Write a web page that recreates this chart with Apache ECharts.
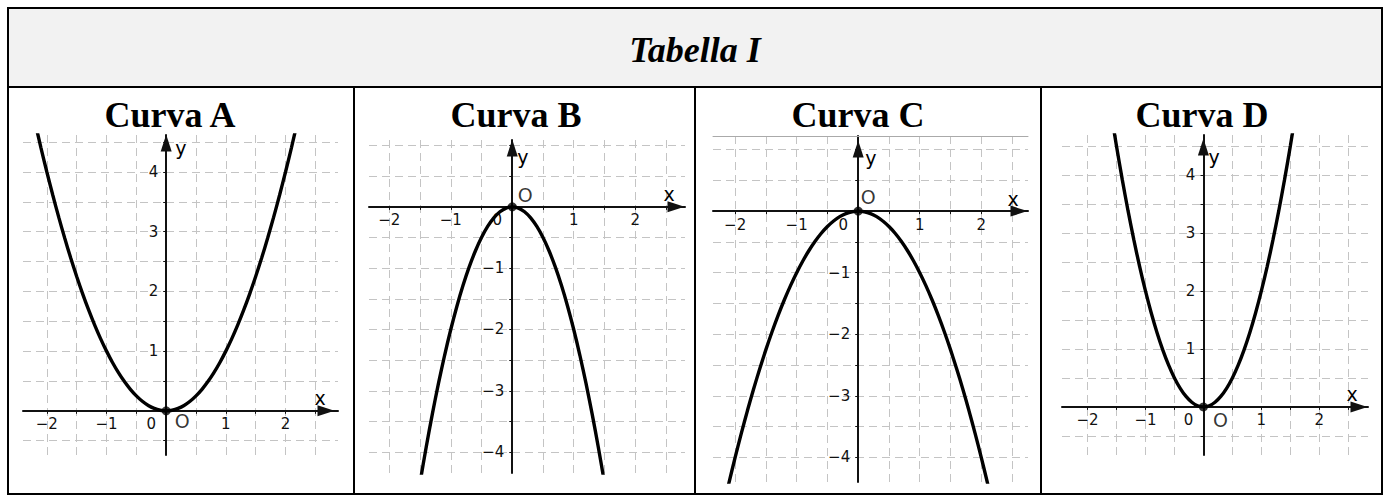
<!DOCTYPE html>
<html>
<head>
<meta charset="utf-8">
<title>Tabella I</title>
<script src="https://cdn.jsdelivr.net/npm/echarts@6/dist/echarts.min.js"></script>
<style>
  html, body { margin: 0; padding: 0; background: #fff; }
  #main { width: 1389px; height: 496px; }
</style>
</head>
<body>
<div id="main"></div>
<script>
// texts
const tableTitle = 'Tabella I';
const curveNames = ['Curva A', 'Curva B', 'Curva C', 'Curva D'];

// tick labels and grid steps (every half unit)
const xLabels = [-2, -1, 0, 1, 2];
const yLabelsUp = [1, 2, 3, 4];
const yLabelsDown = [-1, -2, -3, -4];
const gridX = [-2.5, -2, -1.5, -1, -0.5, 0, 0.5, 1, 1.5, 2, 2.5];
const gridYUp = [-0.5, 0, 0.5, 1, 1.5, 2, 2.5, 3, 3.5, 4, 4.5];
const gridYDown = [-4, -3.5, -3, -2.5, -2, -1.5, -1, -0.5, 0, 0.5, 1];

// points
const xsWide = [-2.2, -2.1, -2, -1.9, -1.8, -1.7, -1.6, -1.5, -1.4, -1.3, -1.2, -1.1, -1, -0.9, -0.8, -0.7, -0.6, -0.5, -0.4, -0.3, -0.2, -0.1,
  0, 0.1, 0.2, 0.3, 0.4, 0.5, 0.6, 0.7, 0.8, 0.9, 1, 1.1, 1.2, 1.3, 1.4, 1.5, 1.6, 1.7, 1.8, 1.9, 2, 2.1, 2.2];
const ysA = [4.84, 4.41, 4, 3.61, 3.24, 2.89, 2.56, 2.25, 1.96, 1.69, 1.44, 1.21, 1, 0.81, 0.64, 0.49, 0.36, 0.25, 0.16, 0.09, 0.04, 0.01,
  0, 0.01, 0.04, 0.09, 0.16, 0.25, 0.36, 0.49, 0.64, 0.81, 1, 1.21, 1.44, 1.69, 1.96, 2.25, 2.56, 2.89, 3.24, 3.61, 4, 4.41, 4.84];
const ysC = [-4.84, -4.41, -4, -3.61, -3.24, -2.89, -2.56, -2.25, -1.96, -1.69, -1.44, -1.21, -1, -0.81, -0.64, -0.49, -0.36, -0.25, -0.16, -0.09, -0.04, -0.01,
  0, -0.01, -0.04, -0.09, -0.16, -0.25, -0.36, -0.49, -0.64, -0.81, -1, -1.21, -1.44, -1.69, -1.96, -2.25, -2.56, -2.89, -3.24, -3.61, -4, -4.41, -4.84];
const xsNarrow = [-1.6, -1.5, -1.4, -1.3, -1.2, -1.1, -1, -0.9, -0.8, -0.7, -0.6, -0.5, -0.4, -0.3, -0.2, -0.1,
  0, 0.1, 0.2, 0.3, 0.4, 0.5, 0.6, 0.7, 0.8, 0.9, 1, 1.1, 1.2, 1.3, 1.4, 1.5, 1.6];
const ysB = [-5.12, -4.5, -3.92, -3.38, -2.88, -2.42, -2, -1.62, -1.28, -0.98, -0.72, -0.5, -0.32, -0.18, -0.08, -0.02,
  0, -0.02, -0.08, -0.18, -0.32, -0.5, -0.72, -0.98, -1.28, -1.62, -2, -2.42, -2.88, -3.38, -3.92, -4.5, -5.12];
const ysD = [5.12, 4.5, 3.92, 3.38, 2.88, 2.42, 2, 1.62, 1.28, 0.98, 0.72, 0.5, 0.32, 0.18, 0.08, 0.02,
  0, 0.02, 0.08, 0.18, 0.32, 0.5, 0.72, 0.98, 1.28, 1.62, 2, 2.42, 2.88, 3.38, 3.92, 4.5, 5.12];

// panel layout (pixels) and visible ranges
const panels = [
  { xs: xsWide, ys: ysA, box: [23, 135, 315, 320], xr: [-2.40, 2.88], yr: [-0.74, 4.62], yLab: yLabelsUp, yGrid: gridYUp,
    o: [16, 10], xn: 18, yn: [13, 9], xArrow: -12, yArrow: -8, tx: 170 },
  { xs: xsNarrow, ys: ysB, box: [369, 140, 316, 333], xr: [-2.33, 2.81], yr: [-4.34, 1.09], yLab: yLabelsDown, yGrid: gridYDown,
    o: [13, -12], xn: 16, yn: [17, 5], xArrow: -9, yArrow: -8, tx: 516 },
  { xs: xsWide, ys: ysC, box: [713, 136, 315, 346], xr: [-2.36, 2.76], yr: [-4.4, 1.22], yLab: yLabelsDown, yGrid: gridYDown,
    o: [10, -14], xn: 15, yn: [22, 7], xArrow: -9, yArrow: -13, tx: 858, topLine: true },
  { xs: xsNarrow, ys: ysD, box: [1062, 135, 306, 320], xr: [-2.44, 2.84], yr: [-0.83, 4.69], yLab: yLabelsUp, yGrid: gridYUp,
    o: [17, 13], xn: 16, yn: [22, 5], xArrow: -9, yArrow: -12, tx: 1202 }
];

const axisColor = '#111';
const gridColor = '#c4c4c4';
const labelFont = 'DejaVu Sans';
const sans = 'DejaVu Sans';
const tickSize = 15;

const grids = [], xAxes = [], yAxes = [], series = [];

panels.forEach(function (p, i) {
  // move each axis from the grid edge onto the zero line
  const xOff = -(0 - p.yr[0]) / (p.yr[1] - p.yr[0]) * p.box[3];
  const yOff = -(0 - p.xr[0]) / (p.xr[1] - p.xr[0]) * p.box[2];
  grids.push({
    left: p.box[0], top: p.box[1], width: p.box[2], height: p.box[3],
    containLabel: false, outerBoundsMode: 'none'
  });
  xAxes.push({
    gridIndex: i, type: 'value', min: p.xr[0], max: p.xr[1], position: 'bottom', offset: xOff,
    axisLine: {
      onZero: false, symbol: ['none', 'triangle'], symbolSize: [11, 17], symbolOffset: [0, p.xArrow],
      lineStyle: { color: axisColor, width: 2 }
    },
    axisTick: { show: true, customValues: gridX, length: 3, lineStyle: { color: axisColor } },
    axisLabel: {
      customValues: xLabels, margin: 6, fontSize: tickSize, fontFamily: labelFont, color: '#111',
      formatter: function (v) { return v === 0 ? '{z|0}' : '{n|' + String(v).replace('-', '\u2212') + '}'; },
      rich: {
        z: { padding: [0, 30, 0, 0], fontSize: tickSize, fontFamily: labelFont, color: '#111' },
        n: { fontSize: tickSize, fontFamily: labelFont, color: '#111' }
      }
    },
    splitLine: { show: true, lineStyle: { color: gridColor, width: 1, type: [8, 5] } },
    name: 'x', nameLocation: 'end', nameGap: -p.xn, nameMoveOverlap: false,
    nameTextStyle: { fontSize: 19, fontFamily: sans, color: '#000', align: 'center', verticalAlign: 'bottom',
      padding: [0, 0, 3, 0] }
  });
  yAxes.push({
    gridIndex: i, type: 'value', min: p.yr[0], max: p.yr[1], position: 'left', offset: yOff,
    axisLine: {
      onZero: false, symbol: ['none', 'triangle'], symbolSize: [11, 17], symbolOffset: [0, p.yArrow],
      lineStyle: { color: axisColor, width: 2 }
    },
    axisTick: { show: true, customValues: p.yGrid, length: 3, lineStyle: { color: axisColor } },
    axisLabel: {
      customValues: p.yLab, margin: 8, fontSize: tickSize, fontFamily: labelFont, color: '#111',
      formatter: function (v) { return '{n|' + String(v).replace('-', '\u2212') + '}'; },
      rich: { n: { fontSize: tickSize, fontFamily: labelFont, color: '#111' } }
    },
    splitLine: { show: true, lineStyle: { color: gridColor, width: 1, type: [8, 5] } },
    name: 'y', nameLocation: 'end', nameGap: -p.yn[0], nameMoveOverlap: false,
    nameTextStyle: { fontSize: 19, fontFamily: sans, color: '#000', align: 'left', verticalAlign: 'middle',
      padding: [0, 0, 0, p.yn[1]] }
  });
  series.push({
    type: 'line', xAxisIndex: i, yAxisIndex: i, smooth: 0.3, showSymbol: false, clip: true,
    lineStyle: { color: '#000', width: 3.4 },
    data: p.xs.map(function (x, k) { return [x, p.ys[k]]; }),
    z: 3
  });
  series.push({
    type: 'scatter', xAxisIndex: i, yAxisIndex: i, symbolSize: 9,
    itemStyle: { color: '#000' },
    label: { show: true, formatter: 'O', position: 'inside', offset: p.o, color: '#000',
      fontSize: 19, fontFamily: sans },
    data: [[0, 0]], z: 4
  });
});

// thin grey border on top of panel C
panels.forEach(function (p, i) {
  if (!p.topLine) return;
  xAxes.push({
    gridIndex: i, type: 'value', min: p.xr[0], max: p.xr[1], position: 'top',
    axisLine: { show: true, onZero: false, lineStyle: { color: '#aaaaaa', width: 1 } },
    axisTick: { show: false }, axisLabel: { show: false }, splitLine: { show: false }
  });
});

// table frame and headings
const L = 8, T = 8, R = 1382, B = 494, headB = 87;
const cols = [354, 695, 1041];
const graphics = [
  { type: 'rect', z: -10, shape: { x: L, y: T, width: R - L, height: headB - T }, style: { fill: '#f2f2f2' } },
  { type: 'rect', z: 10, shape: { x: L, y: T, width: R - L, height: B - T }, style: { fill: 'none', stroke: '#000', lineWidth: 2 } },
  { type: 'line', z: 10, shape: { x1: L, y1: headB, x2: R, y2: headB }, style: { stroke: '#000', lineWidth: 2 } },
  { type: 'text', z: 10, x: 695, y: 50,
    style: { text: tableTitle, fill: '#000', font: 'italic bold 36px "Liberation Serif"', textAlign: 'center', textVerticalAlign: 'middle' } }
];
cols.forEach(function (cx) {
  graphics.push({ type: 'line', z: 10, shape: { x1: cx, y1: headB, x2: cx, y2: B }, style: { stroke: '#000', lineWidth: 2 } });
});
curveNames.forEach(function (n, i) {
  graphics.push({ type: 'text', z: 10, x: panels[i].tx, y: 115,
    style: { text: n, fill: '#000', font: 'bold 36px "Liberation Serif"', textAlign: 'center', textVerticalAlign: 'middle' } });
});

const chart = echarts.init(document.getElementById('main'), null, { renderer: 'svg' });
chart.setOption({
  animation: false,
  backgroundColor: '#fff',
  textStyle: { fontFamily: labelFont },
  grid: grids,
  xAxis: xAxes,
  yAxis: yAxes,
  series: series,
  graphic: graphics
});
</script>
</body>
</html>
